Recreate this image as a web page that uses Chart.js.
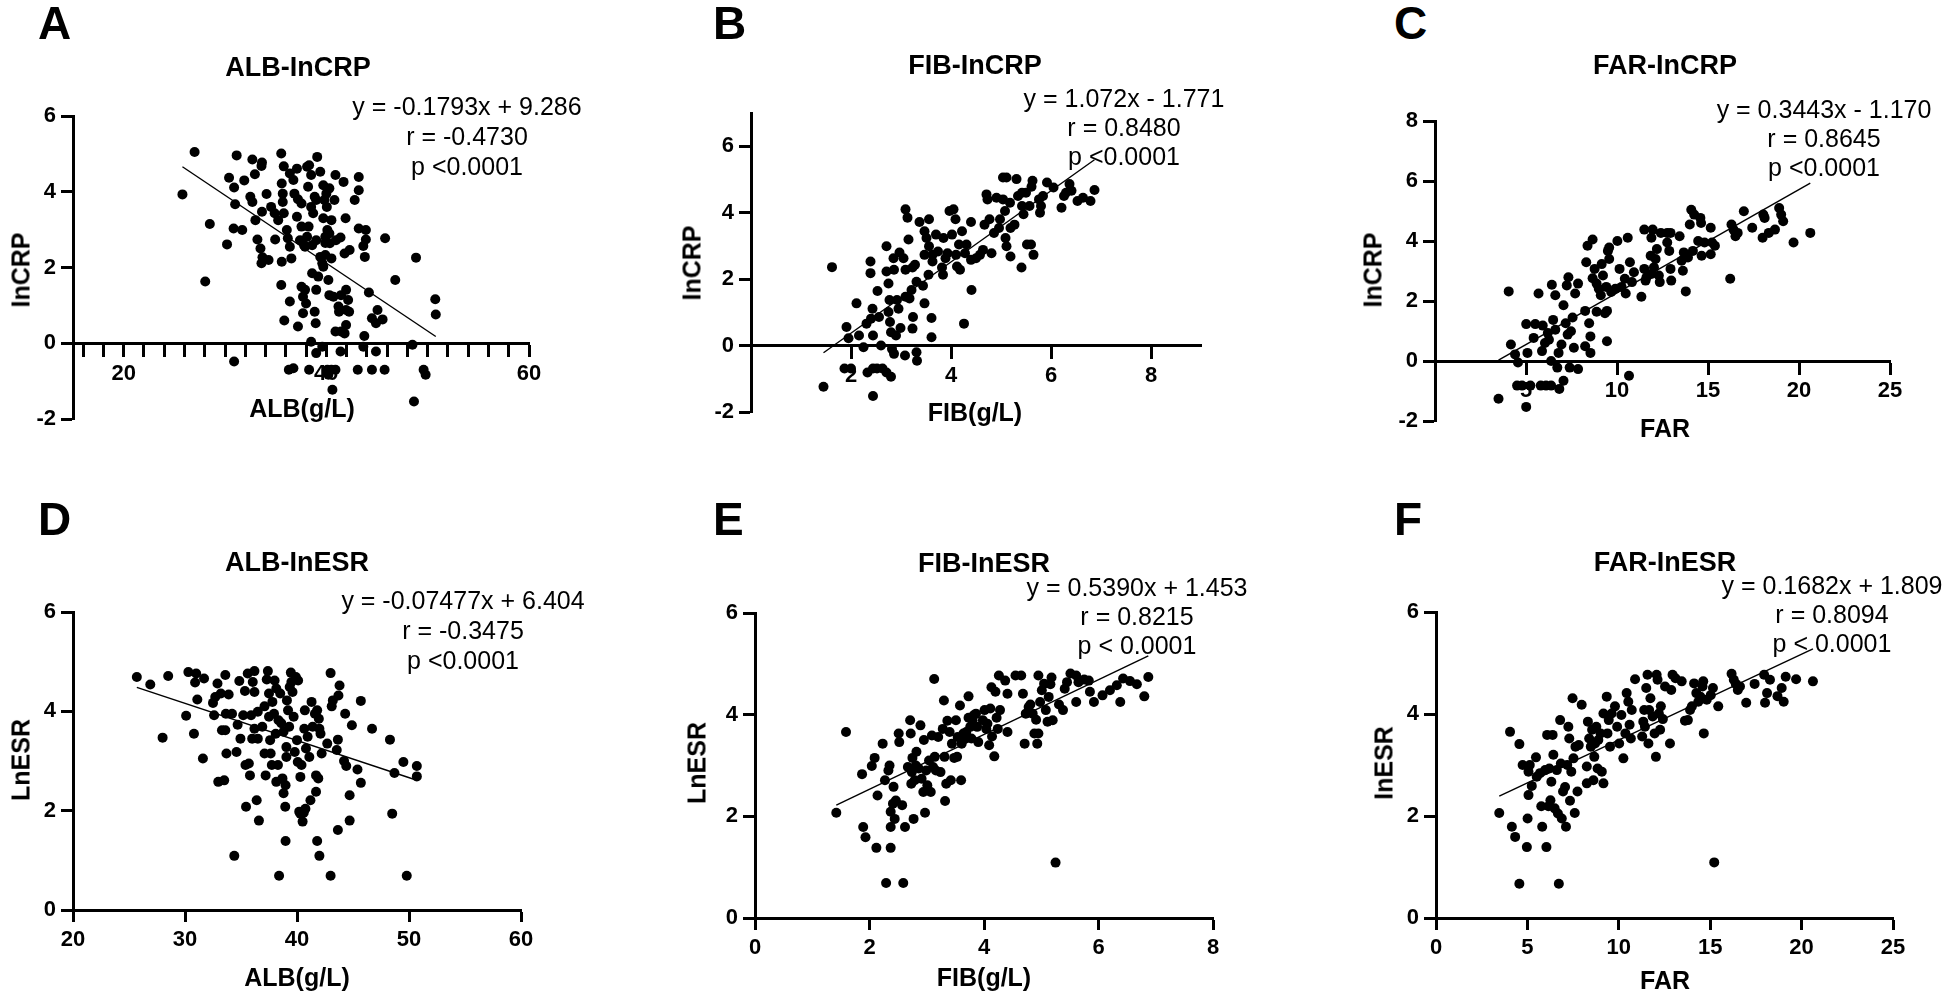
<!DOCTYPE html>
<html>
<head>
<meta charset="utf-8">
<script src="https://cdn.jsdelivr.net/npm/chart.js@4.4.0/dist/chart.umd.min.js"></script>
<style>
  body { margin: 0; background: #fff; }
  #page { position: relative; width: 1944px; height: 1002px; overflow: hidden;
          font-family: "Liberation Sans", Arial, sans-serif; color: #000; }
  canvas { position: absolute; }
  .txt { position: absolute; white-space: nowrap; line-height: 1; transform: translate(-50%, -50%); }
  .letter { font-weight: bold; font-size: 46px; transform: none; }
  .title { font-weight: bold; font-size: 27px; }
  .axis { font-weight: bold; font-size: 25px; }
  .rot { transform: translate(-50%, -50%) rotate(-90deg); }
  .eq { font-size: 25px; }
</style>
</head>
<body>
<div id="page"></div>
<script>
"use strict";

// ---- data: [x, y] per patient ----
const albCrp = [[27.0,5.05],[25.8,3.93],[28.05,1.63],[28.5,3.15],[30.2,2.61],[30.4,4.37],[30.9,4.11],[31.0,3.67],[31.15,4.96],[30.85,3.03],[31.7,2.99],[30.9,-0.48],[31.9,4.3],[32.7,4.85],[32.95,4.46],[32.5,3.87],[32.7,3.73],[33.0,3.25],[33.65,4.77],[33.6,4.68],[33.65,3.47],[34.1,3.94],[33.2,2.74],[33.5,2.5],[33.7,2.27],[33.6,2.11],[34.3,2.2],[34.55,3.6],[34.9,3.43],[34.95,2.74],[35.25,3.25],[35.55,5.01],[35.8,4.67],[35.6,4.22],[35.7,3.95],[35.7,3.73],[35.8,3.43],[36.1,2.99],[36.2,2.77],[36.4,2.55],[35.6,2.15],[36.55,2.24],[35.55,1.54],[36.4,1.1],[35.85,0.6],[37.2,0.44],[36.3,-0.7],[36.75,-0.66],[36.4,4.48],[36.75,4.31],[37.1,4.61],[36.85,3.95],[37.2,3.8],[37.55,3.69],[37.1,3.34],[37.55,3.08],[37.4,2.72],[37.8,2.59],[38.1,4.66],[38.3,4.7],[38.5,4.44],[38.2,4.13],[38.85,3.87],[39.0,3.78],[38.5,3.6],[38.7,3.43],[38.25,3.08],[38.1,2.81],[38.6,2.59],[39.0,2.72],[37.9,2.55],[37.55,1.49],[37.9,1.41],[37.7,1.23],[38.0,1.05],[37.7,0.79],[38.85,0.83],[38.95,0.53],[38.5,0.04],[38.3,-0.7],[39.0,-0.26],[39.1,4.92],[39.4,4.53],[39.7,4.17],[40.0,3.95],[39.8,3.78],[40.3,4.09],[40.05,3.6],[39.7,3.3],[40.1,2.99],[39.9,2.81],[39.9,2.65],[40.3,2.9],[40.35,2.64],[39.4,2.28],[39.6,2.11],[39.9,2.33],[38.6,1.85],[39.2,1.76],[39.7,2.02],[39.0,1.41],[40.2,1.67],[40.3,1.27],[40.7,1.23],[39.6,-0.09],[40.1,-0.7],[40.5,-0.7],[40.9,-0.7],[40.2,-0.83],[40.6,-1.23],[40.9,4.44],[40.8,3.78],[40.5,3.25],[40.95,2.72],[40.5,2.24],[41.2,0.97],[40.9,0.31],[41.4,-0.22],[41.4,2.79],[41.7,4.26],[41.9,3.3],[41.8,2.37],[42.3,2.46],[41.45,1.27],[41.95,1.41],[42.15,1.14],[41.95,0.88],[42.25,0.83],[41.25,0.83],[41.95,0.48],[41.8,0.26],[41.45,0.31],[43.2,4.39],[43.2,4.04],[42.8,3.78],[43.2,3.03],[43.9,2.99],[43.9,2.74],[43.65,2.57],[43.8,2.28],[44.2,1.34],[43.75,0.19],[43.65,-0.09],[44.5,0.66],[45.05,0.88],[44.9,0.53],[45.55,0.63],[44.9,-0.22],[43.1,-0.7],[44.5,-0.7],[45.75,-0.7],[45.8,2.77],[46.8,1.67],[48.85,2.26],[48.5,-0.04],[49.6,-0.7],[49.8,-0.83],[48.65,-1.54],[50.75,1.16],[50.8,0.76]];

const fibCrp = [[1.45,-1.24],[1.62,2.36],[1.91,0.56],[1.95,0.22],[1.87,-0.69],[2.0,-0.69],[2.11,1.27],[2.16,0.3],[2.25,-0.05],[2.31,0.66],[2.33,-0.81],[2.39,2.53],[2.39,2.18],[2.43,1.11],[2.4,0.81],[2.44,0.3],[2.44,-0.69],[2.52,-0.69],[2.44,-1.52],[2.53,1.64],[2.56,0.86],[2.6,0.0],[2.63,-0.69],[2.71,2.99],[2.71,2.23],[2.75,1.87],[2.77,1.37],[2.75,1.01],[2.78,0.71],[2.8,0.4],[2.71,-0.81],[2.8,-0.94],[2.82,-0.1],[2.86,-0.25],[2.85,2.63],[2.86,2.28],[2.92,1.37],[2.95,1.11],[2.9,0.3],[2.99,0.53],[2.97,2.8],[3.05,2.63],[3.09,4.1],[3.13,3.85],[3.15,3.19],[3.09,2.28],[3.09,1.47],[3.17,1.42],[3.08,-0.3],[3.23,2.35],[3.21,1.67],[3.28,2.43],[3.24,0.86],[3.23,0.51],[3.31,-0.2],[3.32,-0.46],[3.31,1.92],[3.37,3.72],[3.47,3.44],[3.47,1.27],[3.44,1.8],[3.51,3.24],[3.47,2.73],[3.56,3.8],[3.56,2.99],[3.55,2.13],[3.61,0.83],[3.61,0.25],[3.63,2.53],[3.63,2.73],[3.7,3.34],[3.74,2.83],[3.82,2.35],[3.84,2.13],[3.85,3.24],[3.89,2.63],[3.93,2.78],[3.97,4.05],[4.05,4.1],[4.09,3.8],[4.02,3.34],[4.1,2.73],[4.12,2.38],[4.18,2.28],[4.16,3.04],[4.22,3.44],[4.26,0.66],[4.28,2.78],[4.31,3.04],[4.4,3.72],[4.41,1.67],[4.4,2.58],[4.5,2.63],[4.58,2.73],[4.64,2.88],[4.67,3.64],[4.71,4.55],[4.73,4.4],[4.77,3.8],[4.81,2.78],[4.86,3.39],[4.91,4.45],[4.96,3.54],[4.98,3.8],[5.04,5.06],[5.11,5.06],[5.08,4.05],[5.09,3.24],[5.11,2.99],[5.04,4.4],[5.18,4.3],[5.19,3.54],[5.19,2.68],[5.27,3.64],[5.31,5.01],[5.34,4.5],[5.42,4.6],[5.42,4.2],[5.41,2.35],[5.45,3.95],[5.5,4.6],[5.52,3.04],[5.6,3.04],[5.57,4.2],[5.63,4.96],[5.61,4.78],[5.65,2.73],[5.76,4.4],[5.84,4.5],[5.8,4.2],[5.78,4.0],[5.92,4.91],[6.05,4.76],[6.21,4.15],[6.26,4.5],[6.3,4.6],[6.37,4.86],[6.41,4.66],[6.53,4.35],[6.64,4.45],[6.79,4.35],[6.87,4.68]];

const farCrp = [[3.49,-1.26],[4.05,2.32],[4.17,0.55],[4.4,0.22],[4.56,-0.05],[4.51,-0.82],[4.78,-0.82],[5.01,-1.53],[5.01,1.23],[5.08,0.27],[5.24,-0.82],[5.42,0.77],[5.51,1.23],[5.69,2.25],[5.81,-0.82],[5.88,0.33],[5.92,1.18],[6.04,0.6],[6.1,-0.82],[6.2,0.93],[6.26,0.71],[6.38,-0.82],[6.42,2.54],[6.49,1.37],[6.38,0.0],[6.61,2.19],[6.61,1.04],[6.72,-0.22],[6.79,0.27],[6.83,-0.93],[6.95,0.55],[7.06,1.86],[7.06,-0.66],[7.18,1.26],[7.24,2.52],[7.29,0.88],[7.33,2.79],[7.4,-0.22],[7.47,0.99],[7.56,1.45],[7.63,0.44],[7.7,2.25],[7.86,2.58],[7.86,-0.27],[8.25,0.49],[8.25,1.67],[8.31,3.29],[8.38,3.84],[8.47,1.26],[8.54,0.27],[8.54,0.82],[8.66,4.05],[8.66,2.76],[8.77,3.07],[8.88,2.58],[8.88,1.64],[9.0,2.41],[9.11,2.19],[9.16,3.23],[9.23,2.85],[9.34,1.59],[9.41,2.47],[9.45,1.67],[9.45,0.66],[9.5,3.67],[9.57,3.78],[9.57,3.4],[9.68,2.3],[9.91,2.41],[10.02,4.0],[10.14,3.07],[10.25,2.47],[10.43,2.74],[10.48,2.25],[10.59,4.11],[10.66,-0.49],[10.71,3.29],[10.82,2.63],[10.93,2.96],[11.34,2.14],[11.5,3.07],[11.57,2.68],[11.62,2.79],[11.5,4.38],[11.85,3.51],[11.89,4.11],[11.96,4.38],[11.89,2.9],[12.03,3.12],[12.12,3.4],[12.19,3.73],[12.3,2.85],[12.35,2.63],[12.41,4.27],[12.76,4.27],[12.76,3.95],[12.87,3.67],[12.94,3.07],[12.98,2.68],[12.94,4.27],[13.44,4.16],[13.55,3.34],[13.62,3.01],[13.67,3.62],[13.78,2.32],[13.9,3.45],[14.0,4.55],[14.08,5.04],[14.17,3.67],[14.24,4.88],[14.46,4.0],[14.58,4.77],[14.62,4.6],[14.65,3.51],[14.81,3.95],[15.15,4.44],[15.15,3.56],[15.22,3.95],[15.38,3.84],[16.22,2.74],[16.29,4.55],[16.4,4.38],[16.51,4.16],[16.63,4.27],[16.97,4.99],[17.43,4.44],[18.0,4.11],[18.04,4.88],[18.11,4.77],[18.34,4.27],[18.68,4.38],[18.91,5.1],[19.02,4.88],[19.13,4.66],[19.7,3.95],[20.62,4.27]];

const albEsr = [[25.7,4.69],[26.9,4.54],[28.0,3.47],[28.5,4.71],[30.1,3.91],[30.3,4.79],[30.8,3.55],[30.9,4.58],[31.0,4.76],[31.1,4.24],[31.6,3.05],[31.7,4.66],[32.5,4.17],[32.6,3.92],[32.7,4.29],[32.9,4.56],[32.97,2.58],[33.2,4.36],[33.3,3.62],[33.5,2.61],[33.6,4.73],[33.65,3.95],[33.6,3.62],[33.7,3.15],[33.9,4.34],[34.2,3.95],[34.4,1.09],[34.6,3.18],[34.7,3.73],[34.85,4.61],[34.95,3.45],[35.2,3.92],[35.35,4.41],[35.45,2.08],[35.4,2.92],[35.6,4.76],[35.7,2.95],[35.8,2.71],[35.9,3.92],[36.0,3.45],[36.05,4.59],[36.2,4.39],[36.2,3.65],[36.2,4.81],[36.4,2.21],[36.5,3.99],[36.5,3.45],[36.6,1.8],[36.9,3.69],[37.1,3.15],[37.1,4.1],[37.2,2.71],[37.3,4.64],[37.4,4.81],[37.5,4.36],[37.5,3.89],[37.6,3.42],[37.65,3.15],[37.75,2.92],[37.8,4.19],[37.95,3.95],[38.0,4.62],[38.1,3.55],[38.15,2.58],[38.15,4.46],[38.3,2.92],[38.35,3.82],[38.4,0.69],[38.5,4.36],[38.6,3.76],[38.7,2.65],[38.8,3.59],[38.8,2.35],[38.95,2.08],[38.98,1.39],[38.98,2.51],[39.05,3.28],[39.05,3.08],[39.1,4.22],[39.2,4.02],[39.3,3.69],[39.35,4.49],[39.45,4.78],[39.5,4.59],[39.6,4.39],[39.7,3.89],[39.8,3.18],[39.9,4.69],[40.0,3.42],[40.07,2.98],[40.1,4.62],[40.2,1.98],[40.3,2.68],[40.3,1.94],[40.4,2.92],[40.5,1.78],[40.6,1.96],[40.65,3.65],[40.7,4.02],[40.75,2.04],[40.8,3.25],[40.95,3.49],[41.1,3.08],[41.2,2.21],[41.3,4.19],[41.4,3.69],[41.6,3.95],[41.7,2.71],[41.7,2.38],[41.8,1.39],[41.8,4.02],[41.9,2.65],[41.95,3.85],[42.0,3.65],[42.0,1.09],[42.1,3.55],[42.2,3.15],[42.7,3.35],[43.0,4.77],[43.0,0.69],[43.1,4.1],[43.2,4.22],[43.55,3.22],[43.65,3.43],[43.7,4.32],[43.8,4.52],[43.65,1.61],[44.2,3.0],[44.3,3.95],[44.4,2.9],[44.7,2.31],[44.7,1.8],[44.9,3.72],[45.4,2.83],[45.7,2.56],[45.7,4.21],[46.7,3.65],[48.3,3.43],[48.5,1.94],[48.7,2.76],[49.5,2.98],[49.8,0.69],[50.7,2.9],[50.7,2.69]];

const fibEsr = [[1.42,2.07],[1.59,3.66],[1.87,2.83],[1.89,1.79],[1.93,1.59],[2.04,2.99],[2.09,3.15],[2.12,1.38],[2.14,2.41],[2.23,3.43],[2.27,2.71],[2.29,0.69],[2.33,2.9],[2.35,3.0],[2.37,2.09],[2.37,1.79],[2.37,1.38],[2.41,2.25],[2.42,2.58],[2.44,1.95],[2.46,2.31],[2.51,3.63],[2.52,3.46],[2.57,2.22],[2.59,0.69],[2.62,1.79],[2.67,2.97],[2.71,3.89],[2.72,3.63],[2.73,2.64],[2.74,2.87],[2.75,3.15],[2.77,1.95],[2.79,2.71],[2.81,3.0],[2.82,3.27],[2.86,2.94],[2.89,3.79],[2.91,2.74],[2.94,2.48],[2.95,3.5],[2.97,2.07],[2.99,2.9],[3.01,2.61],[3.04,3.1],[3.07,2.48],[3.09,3.59],[3.11,2.97],[3.13,4.7],[3.14,3.17],[3.16,2.9],[3.2,3.56],[3.24,2.87],[3.28,3.72],[3.3,4.28],[3.31,3.17],[3.32,2.3],[3.34,2.64],[3.36,3.88],[3.4,3.66],[3.42,2.71],[3.44,3.43],[3.48,3.15],[3.51,3.89],[3.53,3.17],[3.54,3.56],[3.58,4.18],[3.6,2.71],[3.61,3.43],[3.64,3.63],[3.66,3.53],[3.69,3.66],[3.73,4.36],[3.73,3.94],[3.76,3.76],[3.78,3.53],[3.8,3.89],[3.82,3.99],[3.86,4.02],[3.88,3.76],[3.9,3.46],[3.98,3.89],[4.01,4.09],[4.04,3.72],[4.06,3.82],[4.09,3.4],[4.11,4.12],[4.13,4.54],[4.14,3.57],[4.18,3.18],[4.2,4.45],[4.22,3.94],[4.24,3.72],[4.26,4.77],[4.28,4.09],[4.37,4.67],[4.41,4.41],[4.41,3.66],[4.55,4.77],[4.65,4.77],[4.68,4.41],[4.71,3.43],[4.73,4.02],[4.78,4.15],[4.81,4.2],[4.85,4.02],[4.88,3.63],[4.91,3.9],[4.93,3.43],[4.95,3.63],[4.95,4.77],[4.98,4.25],[5.01,4.48],[5.05,4.61],[5.08,4.09],[5.11,3.86],[5.13,4.35],[5.16,4.6],[5.18,4.73],[5.2,3.89],[5.25,1.09],[5.31,4.2],[5.38,4.09],[5.41,4.51],[5.45,4.64],[5.51,4.81],[5.61,4.77],[5.61,4.25],[5.65,4.64],[5.75,4.69],[5.83,4.67],[5.85,4.45],[5.92,4.25],[6.07,4.38],[6.2,4.48],[6.32,4.58],[6.38,4.25],[6.43,4.71],[6.55,4.66],[6.67,4.6],[6.8,4.36],[6.87,4.74]];

const farEsr = [[3.46,2.06],[4.05,3.65],[4.15,1.79],[4.33,1.59],[4.56,3.41],[4.56,0.67],[4.74,3.0],[4.97,1.39],[5.01,1.95],[5.06,2.87],[5.06,2.41],[5.13,3.0],[5.24,2.59],[5.47,3.15],[5.51,2.77],[5.69,2.84],[5.76,2.19],[5.81,1.79],[5.97,2.9],[6.04,1.39],[6.08,3.59],[6.15,2.19],[6.2,2.93],[6.26,2.31],[6.31,2.67],[6.38,3.59],[6.42,3.2],[6.49,2.15],[6.61,2.9],[6.67,2.05],[6.72,0.67],[6.79,3.88],[6.83,3.03],[6.88,1.95],[6.95,2.48],[7.06,2.57],[7.11,1.79],[7.18,3.0],[7.24,3.75],[7.29,3.52],[7.33,2.3],[7.4,2.87],[7.47,4.31],[7.52,3.13],[7.59,2.06],[7.63,3.36],[7.74,2.48],[7.81,3.39],[7.97,4.18],[8.25,2.97],[8.25,2.64],[8.31,3.85],[8.38,3.52],[8.47,3.36],[8.54,3.69],[8.61,2.7],[8.66,3.16],[8.7,3.42],[8.77,3.75],[8.84,2.93],[8.88,3.49],[9.0,3.62],[9.07,2.87],[9.16,4.01],[9.16,2.64],[9.34,4.34],[9.38,3.62],[9.45,3.88],[9.52,3.36],[9.61,4.01],[9.79,4.15],[9.91,3.75],[10.02,3.42],[10.14,3.98],[10.25,3.13],[10.36,3.62],[10.43,4.41],[10.52,4.24],[10.59,3.79],[10.66,3.52],[10.71,4.08],[10.89,4.68],[11.28,3.56],[11.34,3.85],[11.39,4.08],[11.43,3.75],[11.5,4.51],[11.57,4.77],[11.62,3.42],[11.66,4.08],[11.73,4.31],[11.85,3.95],[11.96,3.62],[12.03,3.16],[12.07,4.77],[12.12,4.67],[12.19,4.01],[12.26,3.69],[12.3,4.15],[12.41,3.9],[12.53,4.54],[12.8,3.42],[12.87,4.47],[12.94,4.77],[13.1,4.7],[13.44,4.64],[13.62,3.87],[13.78,3.88],[13.9,4.08],[14.0,4.15],[14.12,4.6],[14.24,4.41],[14.35,4.24],[14.46,4.34],[14.58,4.54],[14.62,4.64],[14.65,3.62],[14.81,4.28],[15.03,4.37],[15.15,4.51],[15.22,1.09],[15.44,4.15],[16.17,4.79],[16.29,4.67],[16.4,4.59],[16.51,4.47],[16.63,4.54],[16.97,4.22],[17.43,4.59],[17.95,4.77],[18.0,4.22],[18.11,4.41],[18.27,4.67],[18.68,4.35],[18.91,4.51],[19.02,4.24],[19.13,4.73],[19.7,4.68],[20.62,4.64]];

// fitted lines, as printed on each panel: [slope, intercept]
const fits = [[-0.1793, 9.286], [1.072, -1.771], [0.3443, -1.170], [-0.07477, 6.404], [0.5390, 1.453], [0.1682, 1.809]];

const panelTitles = ['ALB-InCRP', 'FIB-InCRP', 'FAR-InCRP', 'ALB-InESR', 'FIB-InESR', 'FAR-InESR'];
const panelLetters = ['A', 'B', 'C', 'D', 'E', 'F'];
const xTitles = ['ALB(g/L)', 'FIB(g/L)', 'FAR', 'ALB(g/L)', 'FIB(g/L)', 'FAR'];
const yTitles = ['InCRP', 'InCRP', 'InCRP', 'LnESR', 'LnESR', 'InESR'];
const equations = [
  ['y = -0.1793x + 9.286', 'r = -0.4730', 'p <0.0001'],
  ['y = 1.072x - 1.771', 'r = 0.8480', 'p <0.0001'],
  ['y = 0.3443x - 1.170', 'r = 0.8645', 'p <0.0001'],
  ['y = -0.07477x + 6.404', 'r = -0.3475', 'p <0.0001'],
  ['y = 0.5390x + 1.453', 'r = 0.8215', 'p < 0.0001'],
  ['y = 0.1682x + 1.809', 'r = 0.8094', 'p < 0.0001']
];

// axis ranges: [min, max, step]
const xRanges = [[15, 60, 2], [0, 9, 2], [0, 25, 5], [20, 60, 10], [0, 8, 2], [0, 25, 5]];
const yRanges = [[-2, 6, 2], [-2, 7, 2], [-2, 8, 2], [0, 6, 2], [0, 6, 2], [0, 6, 2]];

// ---- layout (page pixels) ----
const M = 70;
const layout = [
  { area: [73, 116, 529, 419],   title: [298, 67],  letter: [38, 0],    xt: [302, 408],  yt: [21, 270],   eq: [467, 106, 30] },
  { area: [751, 113, 1201, 412], title: [975, 65],  letter: [713, 0],   xt: [975, 412],  yt: [692, 263],  eq: [1124, 98, 29] },
  { area: [1435, 121, 1890, 421],title: [1665, 65], letter: [1394, 0],  xt: [1665, 428], yt: [1373, 270], eq: [1824, 109, 29] },
  { area: [73, 612, 521, 910],   title: [297, 562], letter: [38, 496],  xt: [297, 977],  yt: [21, 760],   eq: [463, 600, 30] },
  { area: [755, 613, 1213, 918], title: [984, 563], letter: [713, 496], xt: [984, 977],  yt: [697, 763],  eq: [1137, 587, 29] },
  { area: [1436, 612, 1893, 918],title: [1665, 562],letter: [1394, 496],xt: [1665, 980], yt: [1384, 763], eq: [1832, 585, 29] }
];

const page = document.getElementById('page');
const tickFont = { family: 'Liberation Sans', size: 22, weight: 'bold' };

/**
 * Places a piece of text on the page.
 */
function addText(cls, str, x, y) {
  const el = document.createElement('div');
  el.className = 'txt ' + cls;
  el.textContent = str;
  el.style.left = x + 'px';
  el.style.top = y + 'px';
  page.appendChild(el);
}

/**
 * Gives a scale a fixed thickness so the plot area lands where the figure has it.
 */
function fixedSize(size) {
  return function (scale) {
    if (scale.isHorizontal()) scale.height = size; else scale.width = size;
    scale.paddingLeft = scale.paddingRight = scale.paddingTop = scale.paddingBottom = 0;
  };
}

function axisOptions(range, size, extra) {
  return Object.assign({
    type: 'linear',
    min: range[0],
    max: range[1],
    ticks: { stepSize: range[2], includeBounds: false, autoSkip: false, maxRotation: 0,
             padding: 5, color: '#000', font: tickFont },
    grid: { drawOnChartArea: false, drawTicks: true, tickLength: 12, tickWidth: 3, tickColor: '#000' },
    border: { display: true, width: 3, color: '#000' },
    afterFit: fixedSize(size)
  }, extra);
}

/**
 * Regression line from the smallest to the largest x of the panel's data.
 */
function fitLine(points, fit) {
  const xs = points.map(p => p[0]);
  const lo = Math.min(...xs);
  const hi = Math.max(...xs);
  return [{ x: lo, y: fit[0] * lo + fit[1] }, { x: hi, y: fit[0] * hi + fit[1] }];
}

function drawPanel(i, points) {
  const L = layout[i];
  const [l, t, r, b] = L.area;
  const canvas = document.createElement('canvas');
  canvas.width = r - l + 2 * M;
  canvas.height = b - t + 2 * M;
  canvas.style.left = (l - M) + 'px';
  canvas.style.top = (t - M) + 'px';
  page.appendChild(canvas);

  const topRow = i < 3;
  const xLabel = (v) => {
    if (i === 0) return v % 20 === 0 ? v : '';
    if (topRow && v === 0) return '';
    return v;
  };

  // top row: x axis crosses at y = 0 and takes no room; bottom row: axis sits under the plot
  const xAxis = axisOptions(xRanges[i], topRow ? 0 : M, { position: topRow ? { y: 0 } : 'bottom' });
  xAxis.ticks.callback = xLabel;
  const yAxis = axisOptions(yRanges[i], M, { position: 'left' });

  new Chart(canvas, {
    type: 'scatter',
    data: {
      datasets: [
        { type: 'line', data: fitLine(points, fits[i]), borderColor: '#000', borderWidth: 1.4,
          pointRadius: 0, fill: false },
        { data: points.map(p => ({ x: p[0], y: p[1] })), backgroundColor: '#000',
          borderWidth: 0, pointRadius: 5 }
      ]
    },
    options: {
      responsive: false,
      animation: false,
      events: [],
      layout: { padding: { left: 0, top: M, right: M, bottom: topRow ? M : 0 } },
      plugins: { legend: { display: false }, tooltip: { enabled: false } },
      scales: { x: xAxis, y: yAxis }
    }
  });

  addText('letter', panelLetters[i], L.letter[0], L.letter[1]);
  addText('title', panelTitles[i], L.title[0], L.title[1]);
  addText('axis', xTitles[i], L.xt[0], L.xt[1]);
  addText('axis rot', yTitles[i], L.yt[0], L.yt[1]);
  equations[i].forEach((line, k) => addText('eq', line, L.eq[0], L.eq[1] + k * L.eq[2]));
}

[albCrp, fibCrp, farCrp, albEsr, fibEsr, farEsr].forEach((pts, i) => drawPanel(i, pts));
</script>
</body>
</html>
